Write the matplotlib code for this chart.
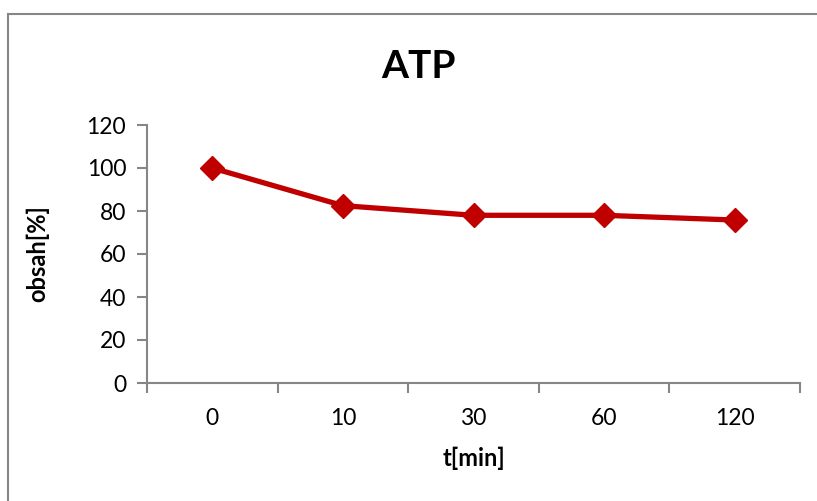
import matplotlib
matplotlib.use("Agg")
import matplotlib.pyplot as plt
from matplotlib.patches import Rectangle

categories = ["0", "10", "30", "60", "120"]
values = [100, 82.5, 78, 78, 75.8]
yticks = [0, 20, 40, 60, 80, 100, 120]

W, H = 817, 501
plt.rcParams['font.family'] = ['Lato', 'DejaVu Sans']
fig = plt.figure(figsize=(W / 100, H / 100), dpi=100)

# outer chart border (extends beyond right/bottom edges)
fig.patches.append(Rectangle((8 / W, -0.1), 1.2, 1 - 14 / H + 0.1,
                             transform=fig.transFigure, fill=False,
                             edgecolor="#868686", linewidth=1.5))

x0, x1 = 147, 800
y0, y1 = 383, 125
ax = fig.add_axes([x0 / W, 1 - y0 / H, (x1 - x0) / W, (y0 - y1) / H])

xs = list(range(len(categories)))
ax.plot(xs, values, color="#C00000", linewidth=3.8, marker="D",
        markersize=12, markerfacecolor="#C00000", markeredgecolor="#C00000",
        solid_joinstyle="round")

ax.set_xlim(-0.5, len(categories) - 0.5)
ax.set_ylim(0, 120)
ax.set_yticks(yticks)
ax.set_yticklabels([str(v) for v in yticks])
ax.set_xticks(xs)
ax.set_xticklabels(categories)
ax.set_xticks([i - 0.5 for i in range(len(categories) + 1)], minor=True)

for s in ["top", "right"]:
    ax.spines[s].set_visible(False)
for s in ["left", "bottom"]:
    ax.spines[s].set_color("#868686")
    ax.spines[s].set_linewidth(1.5)

ax.tick_params(axis="y", direction="out", length=7, width=1.5, color="#868686",
               labelsize=16.5, pad=8)
ax.tick_params(axis="x", which="major", length=0, labelsize=16.5, pad=18)
ax.tick_params(axis="x", which="minor", direction="out", length=7, width=1.5,
               color="#868686")

ax.set_xlabel("t[min]", fontsize=17, fontweight="bold", labelpad=13)
ax.set_ylabel("obsah[%]", fontsize=17, fontweight="bold", labelpad=27)
fig.text(418 / W, 1 - 66 / H, "ATP", fontsize=28, fontweight="bold",
         ha="center", va="center")

fig.savefig("out.png", dpi=100)
